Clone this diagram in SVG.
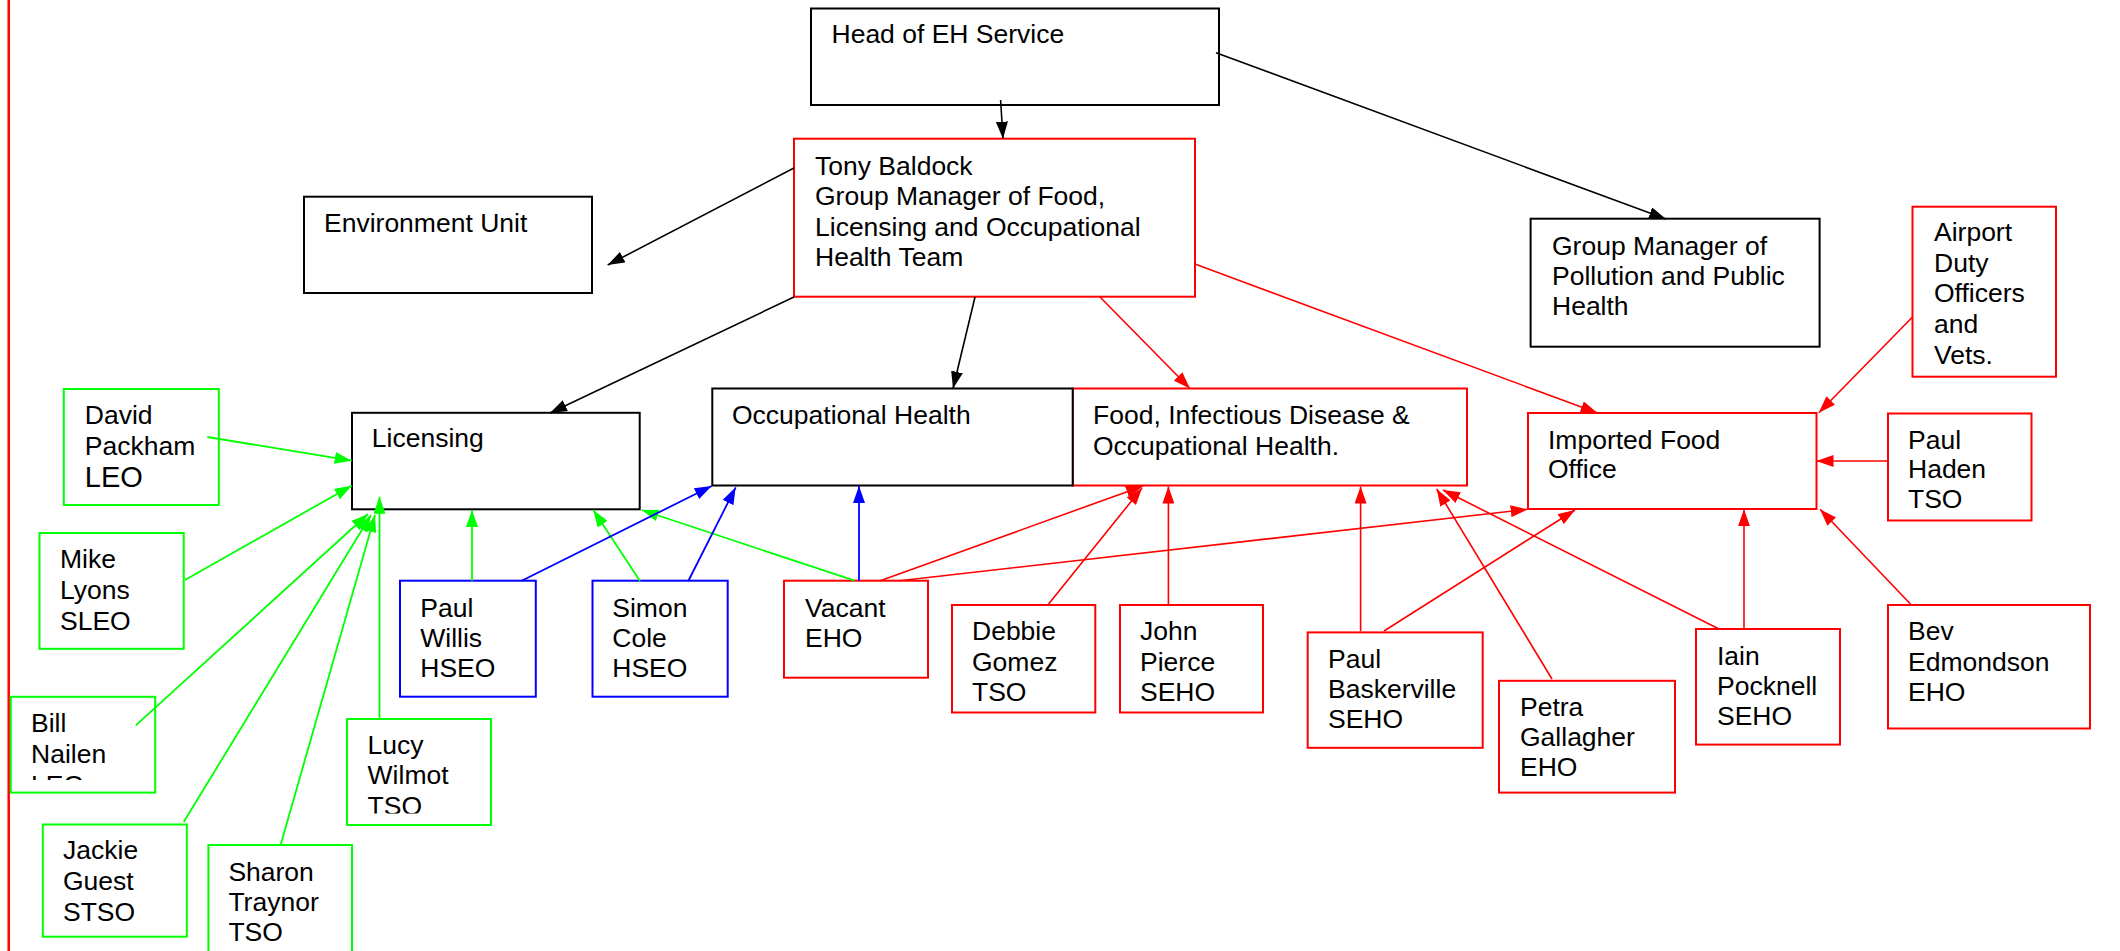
<svg xmlns="http://www.w3.org/2000/svg" width="2120" height="951" viewBox="0 0 2120 951">
<style>
text{font-family:"Liberation Sans",Arial,sans-serif;font-size:26.5px;fill:#000}
.bk{fill:#fff;stroke:#000;stroke-width:2}
.rd{fill:#fff;stroke:#ff0000;stroke-width:2}
.gr{fill:#fff;stroke:#00ff00;stroke-width:2}
.bl{fill:#fff;stroke:#0000ff;stroke-width:2}
.ck{stroke:#000;stroke-width:1.6;fill:none;marker-end:url(#ak)}
.cr{stroke:#ff0000;stroke-width:1.6;fill:none;marker-end:url(#ar)}
.cg{stroke:#00ff00;stroke-width:1.8;fill:none;marker-end:url(#ag)}
.cb{stroke:#0000ff;stroke-width:1.8;fill:none;marker-end:url(#ab)}
</style>
<defs>
<marker id="ak" markerUnits="userSpaceOnUse" markerWidth="17" markerHeight="12" refX="17" refY="6" orient="auto"><path d="M0,0 L17,6 L0,12 z" fill="#000"/></marker>
<marker id="ar" markerUnits="userSpaceOnUse" markerWidth="17" markerHeight="12" refX="17" refY="6" orient="auto"><path d="M0,0 L17,6 L0,12 z" fill="#ff0000"/></marker>
<marker id="ag" markerUnits="userSpaceOnUse" markerWidth="17" markerHeight="12" refX="17" refY="6" orient="auto"><path d="M0,0 L17,6 L0,12 z" fill="#00ff00"/></marker>
<marker id="ab" markerUnits="userSpaceOnUse" markerWidth="17" markerHeight="12" refX="17" refY="6" orient="auto"><path d="M0,0 L17,6 L0,12 z" fill="#0000ff"/></marker>
<clipPath id="clipBill"><rect x="10" y="696" width="146" height="84"/></clipPath>
<clipPath id="clipLucy"><rect x="346" y="718" width="146" height="95.5"/></clipPath>
</defs>
<rect width="2120" height="951" fill="#fff"/>
<line x1="8.7" y1="0" x2="8.7" y2="951" stroke="#ff0000" stroke-width="2.5"/>

<g id="head"><rect class="bk" x="811" y="8.5" width="408" height="96.5"/><text x="831.5" y="43">Head of EH Service</text></g>
<g id="tony"><rect class="rd" x="794" y="138.7" width="401" height="158"/><text x="815" y="175"><tspan x="815">Tony Baldock</tspan><tspan x="815" dy="30.3">Group Manager of Food,</tspan><tspan x="815" dy="30.3">Licensing and Occupational</tspan><tspan x="815" dy="30.3">Health Team</tspan></text></g>
<g id="env"><rect class="bk" x="304" y="196.7" width="288" height="96.3"/><text x="324" y="231.7">Environment Unit</text></g>
<g id="gm"><rect class="bk" x="1530.6" y="218.7" width="289" height="128"/><text x="1552" y="255"><tspan x="1552">Group Manager of</tspan><tspan x="1552" dy="30">Pollution and Public</tspan><tspan x="1552" dy="30">Health</tspan></text></g>
<g id="airport"><rect class="rd" x="1912.5" y="206.7" width="143.5" height="170"/><text x="1934" y="240.7"><tspan x="1934">Airport</tspan><tspan x="1934" dy="30.8">Duty</tspan><tspan x="1934" dy="30.8">Officers</tspan><tspan x="1934" dy="30.8">and</tspan><tspan x="1934" dy="30.8">Vets.</tspan></text></g>
<g id="licensing"><rect class="bk" x="352" y="412.8" width="287.7" height="96.5"/><text x="371.8" y="447.4">Licensing</text></g>
<g id="food"><rect class="rd" x="1072.7" y="388.5" width="394.3" height="97"/><text x="1093" y="424.4"><tspan x="1093">Food, Infectious Disease &amp;</tspan><tspan x="1093" dy="31">Occupational Health.</tspan></text></g>
<g id="occ"><rect class="bk" x="712.3" y="388.5" width="360.4" height="97"/><text x="732" y="423.7">Occupational Health</text></g>
<g id="imported"><rect class="rd" x="1528" y="413" width="288.5" height="96"/><text x="1548" y="448.5"><tspan x="1548">Imported Food</tspan><tspan x="1548" dy="29.8">Office</tspan></text></g>
<g id="paulhaden"><rect class="rd" x="1888" y="413.5" width="143.5" height="107"/><text x="1908" y="448.5"><tspan x="1908">Paul</tspan><tspan x="1908" dy="29.9">Haden</tspan><tspan x="1908" dy="29.9">TSO</tspan></text></g>
<g id="david"><rect class="gr" x="63.8" y="389" width="155" height="116"/><text x="84.8" y="423.7"><tspan x="84.8">David</tspan><tspan x="84.8" dy="31">Packham</tspan><tspan x="84.8" dy="32" style="font-size:29px">LEO</tspan></text></g>
<g id="mike"><rect class="gr" x="39.5" y="533" width="144.2" height="115.8"/><text x="60" y="567.6"><tspan x="60">Mike</tspan><tspan x="60" dy="31">Lyons</tspan><tspan x="60" dy="31">SLEO</tspan></text></g>
<g id="bill"><rect class="gr" x="10.8" y="696.8" width="144.4" height="95.8"/><text x="31" y="731.5" clip-path="url(#clipBill)"><tspan x="31">Bill</tspan><tspan x="31" dy="31">Nailen</tspan><tspan x="31" dy="31">LEO</tspan></text></g>
<g id="jackie"><rect class="gr" x="42.8" y="824.5" width="144" height="112.2"/><text x="63" y="859.2"><tspan x="63">Jackie</tspan><tspan x="63" dy="30.8">Guest</tspan><tspan x="63" dy="30.8">STSO</tspan></text></g>
<g id="sharon"><rect class="gr" x="208.4" y="845" width="143.6" height="120"/><text x="228.4" y="880.5"><tspan x="228.4">Sharon</tspan><tspan x="228.4" dy="30">Traynor</tspan><tspan x="228.4" dy="30">TSO</tspan></text></g>
<g id="lucy"><rect class="gr" x="347" y="719" width="144" height="106"/><text x="367.6" y="753.6" clip-path="url(#clipLucy)"><tspan x="367.6">Lucy</tspan><tspan x="367.6" dy="30.7">Wilmot</tspan><tspan x="367.6" dy="30.7">TSO</tspan></text></g>
<g id="paulwillis"><rect class="bl" x="400" y="580.7" width="135.8" height="116"/><text x="420.3" y="616.7"><tspan x="420.3">Paul</tspan><tspan x="420.3" dy="30.2">Willis</tspan><tspan x="420.3" dy="30.2">HSEO</tspan></text></g>
<g id="simon"><rect class="bl" x="592.5" y="580.7" width="135.2" height="116"/><text x="612.3" y="616.7"><tspan x="612.3">Simon</tspan><tspan x="612.3" dy="30.2">Cole</tspan><tspan x="612.3" dy="30.2">HSEO</tspan></text></g>
<g id="vacant"><rect class="rd" x="784" y="580.7" width="144" height="97"/><text x="805" y="616.7"><tspan x="805">Vacant</tspan><tspan x="805" dy="30.3">EHO</tspan></text></g>
<g id="debbie"><rect class="rd" x="952" y="605" width="143.3" height="107.5"/><text x="972" y="640.4"><tspan x="972">Debbie</tspan><tspan x="972" dy="30.1">Gomez</tspan><tspan x="972" dy="30.1">TSO</tspan></text></g>
<g id="john"><rect class="rd" x="1120" y="605" width="143" height="107.5"/><text x="1140" y="640.4"><tspan x="1140">John</tspan><tspan x="1140" dy="30.1">Pierce</tspan><tspan x="1140" dy="30.1">SEHO</tspan></text></g>
<g id="paulb"><rect class="rd" x="1307.7" y="632.4" width="175" height="115.4"/><text x="1328" y="667.7"><tspan x="1328">Paul</tspan><tspan x="1328" dy="30">Baskerville</tspan><tspan x="1328" dy="30">SEHO</tspan></text></g>
<g id="petra"><rect class="rd" x="1499" y="680.8" width="176" height="111.8"/><text x="1520" y="715.8"><tspan x="1520">Petra</tspan><tspan x="1520" dy="30.2">Gallagher</tspan><tspan x="1520" dy="30.2">EHO</tspan></text></g>
<g id="iain"><rect class="rd" x="1696" y="629" width="144" height="115.6"/><text x="1717" y="664.8"><tspan x="1717">Iain</tspan><tspan x="1717" dy="30.2">Pocknell</tspan><tspan x="1717" dy="30.2">SEHO</tspan></text></g>
<g id="bev"><rect class="rd" x="1888" y="605" width="202" height="123.5"/><text x="1908" y="640.4"><tspan x="1908">Bev</tspan><tspan x="1908" dy="30.1">Edmondson</tspan><tspan x="1908" dy="30.1">EHO</tspan></text></g>

<g id="connectors">
<line class="ck" x1="1000.6" y1="100" x2="1003" y2="138.7"/>
<line class="ck" x1="1216" y1="52.7" x2="1666" y2="219"/>
<line class="ck" x1="794" y1="168" x2="607.7" y2="265"/>
<line class="ck" x1="794" y1="297" x2="550" y2="413"/>
<line class="ck" x1="975" y1="297" x2="953" y2="388.5"/>
<line class="cr" x1="1100" y1="297" x2="1190" y2="388.5"/>
<line class="cr" x1="1195.6" y1="264.3" x2="1597.6" y2="413"/>
<line class="cr" x1="1912.5" y1="317" x2="1818.8" y2="412.7"/>
<line class="cr" x1="1888" y1="461" x2="1816.5" y2="461"/>
<line class="cr" x1="880.2" y1="580.7" x2="1143" y2="486"/>
<line class="cr" x1="899.3" y1="580.7" x2="1527.7" y2="509.3"/>
<line class="cr" x1="1047.8" y1="605" x2="1142" y2="488"/>
<line class="cr" x1="1168.4" y1="605" x2="1168.4" y2="486.5"/>
<line class="cr" x1="1360.6" y1="631" x2="1360.6" y2="486.5"/>
<line class="cr" x1="1384" y1="631" x2="1575" y2="510"/>
<line class="cr" x1="1552" y1="679" x2="1436.7" y2="489"/>
<line class="cr" x1="1719" y1="629" x2="1443" y2="490"/>
<line class="cr" x1="1744" y1="629" x2="1744" y2="509.3"/>
<line class="cr" x1="1911.4" y1="605" x2="1820" y2="509.3"/>
<line class="cg" x1="207.3" y1="437" x2="351.7" y2="460.7"/>
<line class="cg" x1="185" y1="580" x2="351.7" y2="485.7"/>
<line class="cg" x1="135.8" y1="725.3" x2="368" y2="514"/>
<line class="cg" x1="183.7" y1="822" x2="371" y2="515"/>
<line class="cg" x1="280.6" y1="845" x2="375" y2="515"/>
<line class="cg" x1="379.5" y1="718.7" x2="379.5" y2="496.7"/>
<line class="cg" x1="472" y1="580.7" x2="472" y2="510"/>
<line class="cg" x1="640" y1="581" x2="593.3" y2="510"/>
<line class="cg" x1="854.7" y1="580.7" x2="641.7" y2="510"/>
<line class="cb" x1="521.7" y1="580.7" x2="711.7" y2="486"/>
<line class="cb" x1="688.3" y1="581" x2="735.7" y2="487.3"/>
<line class="cb" x1="859" y1="580.7" x2="859" y2="486"/>
</g>
</svg>
